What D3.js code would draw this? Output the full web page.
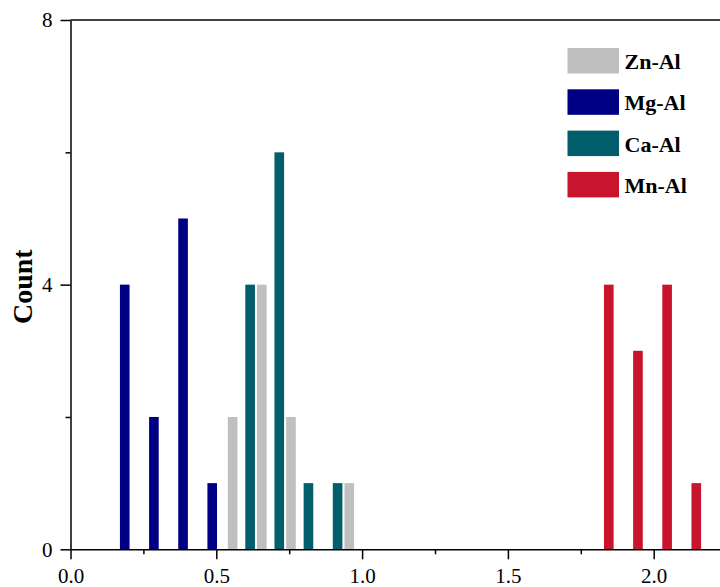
<!DOCTYPE html>
<html><head><meta charset="utf-8">
<script src="https://cdn.jsdelivr.net/npm/d3@7"></script>
<style>html,body{margin:0;padding:0;background:#fff;}svg{display:block;}</style>
</head><body>
<svg id="c" width="720" height="587"></svg>
<script>
const seriesNames = ["Zn-Al", "Mg-Al", "Ca-Al", "Mn-Al"];
const seriesColors = ["#BFBFBF", "#000084", "#015E6A", "#C8142C"];
const znX = [0.556, 0.656, 0.756, 0.956];
const znCount = [2, 4, 2, 1];
const mgX = [0.186, 0.286, 0.386, 0.486];
const mgCount = [4, 2, 5, 1];
const caX = [0.616, 0.716, 0.816, 0.916];
const caCount = [4, 6, 1, 1];
const mnX = [1.846, 1.946, 2.046, 2.146];
const mnCount = [4, 3, 4, 1];
const xMajor = [0, 0.5, 1.0, 1.5, 2.0];
const xMinor = [0.25, 0.75, 1.25, 1.75];
const yMajor = [0, 4, 8];
const yMinor = [2, 6];

const svg = d3.select("#c");
const x = d3.scaleLinear().domain([0, 2.25]).range([70.5, 726.6]);
const y = d3.scaleLinear().domain([0, 8]).range([549.3, 20]);
const barW = x(0.033) - x(0);

const series = [
  {name: seriesNames[0], color: seriesColors[0], xs: znX, cs: znCount},
  {name: seriesNames[1], color: seriesColors[1], xs: mgX, cs: mgCount},
  {name: seriesNames[2], color: seriesColors[2], xs: caX, cs: caCount},
  {name: seriesNames[3], color: seriesColors[3], xs: mnX, cs: mnCount}
];

series.forEach(s => {
  svg.append("g").selectAll("rect").data(s.xs.map((v, i) => ({x: v, c: s.cs[i]})))
    .join("rect")
    .attr("x", d => x(d.x) - barW / 2)
    .attr("y", d => y(d.c))
    .attr("width", barW)
    .attr("height", d => y(0) - y(d.c))
    .attr("fill", s.color);
});

// top frame line
svg.append("line").attr("x1", x(0)).attr("x2", 720).attr("y1", y(8)).attr("y2", y(8))
  .attr("stroke", "#000").attr("stroke-width", 1.5);

const font = "'Liberation Serif','Times New Roman',serif";

// x axis
const gx = svg.append("g").attr("transform", `translate(0,${y(0)})`)
  .call(d3.axisBottom(x).tickValues(xMajor).tickSize(10).tickSizeOuter(0).tickFormat(d3.format(".1f")));
svg.append("g").attr("transform", `translate(0,${y(0)})`)
  .call(d3.axisBottom(x).tickValues(xMinor).tickSize(5).tickSizeOuter(0).tickFormat(""))
  .select(".domain").remove();
gx.selectAll("text").attr("y", 34).attr("dy", null).attr("font-size", 21).attr("font-family", font).attr("fill", "#000");

// y axis
const gy = svg.append("g").attr("transform", `translate(${x(0)},0)`)
  .call(d3.axisLeft(y).tickValues(yMajor).tickSize(10).tickSizeOuter(0).tickFormat(d3.format("d")));
svg.append("g").attr("transform", `translate(${x(0)},0)`)
  .call(d3.axisLeft(y).tickValues(yMinor).tickSize(5).tickSizeOuter(0).tickFormat(""))
  .select(".domain").remove();
gy.selectAll("text").attr("x", -18).attr("font-size", 21).attr("font-family", font).attr("fill", "#000");

svg.selectAll(".domain, .tick line").attr("stroke", "#000").attr("stroke-width", 1.5);

// y label
svg.append("text").attr("transform", `translate(32,${(y(0) + y(8)) / 2 + 2}) rotate(-90)`)
  .attr("text-anchor", "middle").attr("font-family", font).attr("font-weight", "bold")
  .attr("font-size", 28).text("Count");

// legend
const lg = svg.append("g");
series.forEach((s, i) => {
  const yy = 48 + i * 41.3;
  lg.append("rect").attr("x", 567.5).attr("y", yy).attr("width", 51.5).attr("height", 25.5).attr("fill", s.color);
  lg.append("text").attr("x", 624.5).attr("y", yy + 21).attr("font-family", font)
    .attr("font-weight", "bold").attr("font-size", 22).text(s.name);
});
</script>
</body></html>
